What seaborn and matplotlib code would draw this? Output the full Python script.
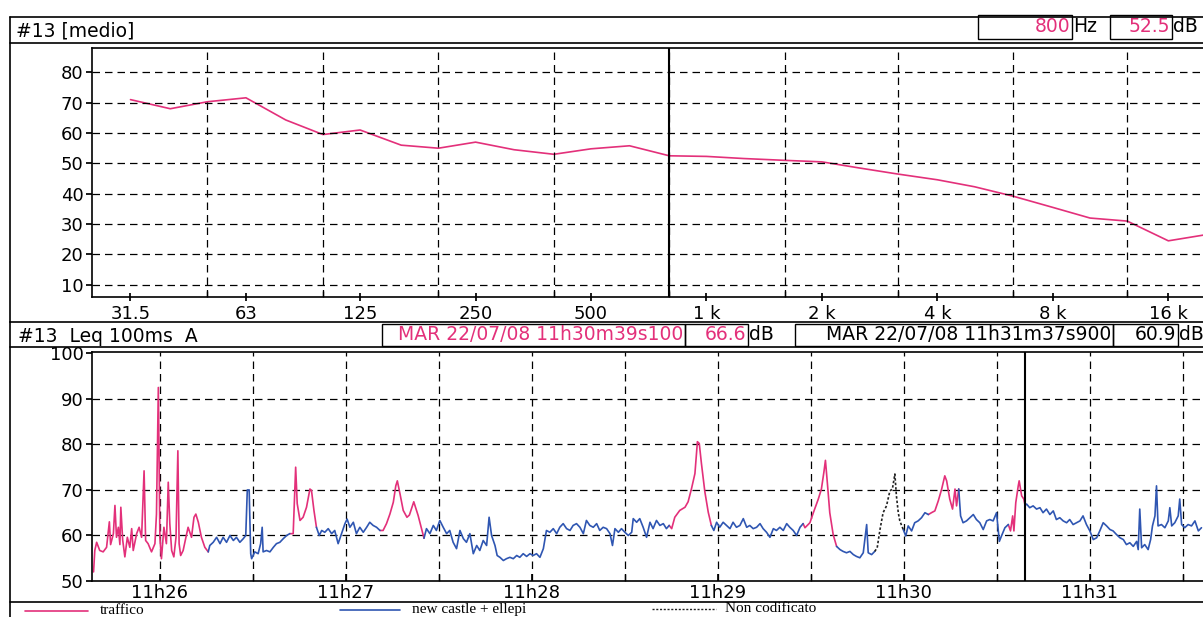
import numpy as np
import pandas as pd
import matplotlib
matplotlib.use("Agg")
import matplotlib.pyplot as plt
import matplotlib.ticker as mticker
from matplotlib.lines import Line2D
from matplotlib.patches import Rectangle
import seaborn as sns

# ---------------- spettro medio, bande 1/3 ottava ----------------
freq_hz = [31.5, 40, 50, 63, 80, 100, 125, 160, 200, 250, 315, 400, 500, 630,
           800, 1000, 1250, 1600, 2000, 2500, 3150, 4000, 5000, 6300, 8000,
           10000, 12500, 16000, 20000]
spec_db = [71.0, 68.0, 70.3, 71.6, 64.3, 59.5, 61.0, 56.0, 55.0, 57.0, 54.5, 53.0, 54.8, 55.8,
           52.5, 52.3, 51.6, 51.0, 50.5, 48.5, 46.5, 44.6, 42.3, 39.2, 35.5,
           32.0, 31.0, 24.5, 26.5]
octave_hz = [31.5, 63, 125, 250, 500, 1000, 2000, 4000, 8000, 16000]
octave_lbl = ["31.5", "63", "125", "250", "500", "1 k", "2 k", "4 k", "8 k", "16 k"]
grid_hz = [50, 100, 200, 400, 800, 1600, 3150, 6300, 12500]
cursor_hz = 800

# ---------------- Leq 100ms A, secondi dopo le 11h25 ----------------
leq_t = [38.6, 39.0, 39.6, 40.6, 41.7, 42.8, 43.7, 44.1, 45.0, 45.5, 46.0, 46.6, 47.1, 47.4, 48.0,
         48.7, 49.5, 50.3, 50.9, 51.4, 52.5, 53.3, 54.1, 54.9, 55.4, 56.2, 57.3, 58.4, 58.9, 59.5,
         60.0, 60.5, 61.3, 62.1, 62.7, 63.2, 63.8, 64.5, 65.2, 65.8, 66.2, 66.7, 67.5, 68.4, 69.1,
         70.2, 71.0, 71.6, 72.4, 73.4, 74.5, 75.6,
         76.1, 77.2, 78.3, 79.4, 80.4, 81.5, 82.6, 83.7, 84.7, 85.8, 86.9, 87.7, 88.2, 88.8, 89.3,
         89.6, 90.6, 91.7, 92.5, 93.0, 93.3, 94.4, 95.5, 96.6, 97.6, 98.7, 99.8, 100.9, 101.9,
         103.0, 103.8, 104.3, 105.2, 106.2, 107.3, 108.4, 108.9, 109.7, 110.5,
         111.4, 112.2, 113.2, 114.3, 115.4, 116.4, 117.5, 118.6, 119.7, 120.4, 121.3, 122.4, 123.4,
         124.5, 125.6, 126.7, 127.7, 128.8, 129.9, 131.0,
         132.0, 133.1, 134.2, 135.3, 136.1, 136.6, 137.5, 138.5, 139.7, 140.5, 141.9, 143.3, 144.4, 145.2,
         146.0, 147.1, 148.2, 149.2, 150.3, 151.4, 152.5, 153.5, 154.6, 155.7,
         156.8, 157.9, 158.9, 160.0, 161.1, 162.2, 163.2, 164.3, 165.4, 166.2,
         167.0, 168.1, 168.8, 169.7, 170.8, 171.8, 172.9, 174.0, 175.1, 176.1,
         177.2, 178.3, 179.4, 180.4, 181.5, 182.6, 183.7, 184.7, 185.8, 186.9,
         188.0, 189.0, 190.1, 191.2, 192.3, 193.3, 194.4, 195.5, 196.6, 197.6,
         198.7, 199.8, 200.9, 201.9, 203.0, 204.1, 205.2, 206.0, 206.8, 207.9,
         208.9, 210.0, 211.1, 212.2, 212.7, 213.8, 214.8, 215.9, 217.0, 218.1,
         219.1, 220.2, 221.3, 222.4, 223.4, 224.3,
         225.1, 226.1, 227.7, 229.4, 230.4, 231.5, 232.6, 233.4, 234.0, 234.7, 235.8, 236.9, 237.9,
         238.7, 239.6, 240.6, 241.7, 242.8, 243.9, 244.9, 246.0, 247.1, 248.2, 249.3, 250.3, 251.4,
         252.5, 253.6, 254.6, 255.7, 256.8, 257.9, 258.9, 260.0, 261.1, 262.2, 263.2, 264.3, 265.4,
         266.5, 267.5,
         268.1, 269.7, 270.8, 272.4, 273.4, 274.2, 274.7, 275.3, 276.1, 277.2, 278.3,
         279.4, 280.4, 281.5, 282.6, 283.7, 284.7, 285.8, 286.9, 288.0, 288.5, 289.6, 290.6,
         291.4, 292.3, 293.3, 294.4, 295.5, 296.3, 297.1, 297.6, 298.2, 298.7, 299.8,
         300.6, 301.4, 302.5, 303.5, 304.6, 305.7, 306.8, 307.9,
         308.9, 310.0, 311.1, 312.2, 313.2, 313.8, 314.8, 315.7, 316.5, 317.0, 317.7,
         318.3, 319.1, 320.2, 321.3, 322.4, 323.4, 324.5, 325.6, 326.7, 327.7, 328.8, 329.9, 330.8,
         331.5, 332.6, 333.7,
         334.4, 335.1, 335.5, 336.1, 336.9, 337.2, 338.0, 338.7, 339.1,
         339.6, 340.6, 341.7, 342.8, 343.9, 344.9, 346.0, 347.1, 348.2, 349.2,
         350.3, 351.4, 352.5, 353.5, 354.6, 355.7, 356.8, 357.8, 358.9, 360.0,
         361.1, 362.2, 363.2, 364.3, 365.4, 366.5, 367.5, 368.6, 369.7, 370.8,
         371.8, 372.9, 374.0, 375.1, 375.6, 376.1, 376.7, 377.7, 378.8, 379.6,
         380.2, 381.0, 381.5, 382.0, 383.1, 384.2, 385.3, 385.8, 386.4, 387.4,
         388.5, 389.0, 389.6, 390.6, 391.7, 392.8, 393.9, 395.0, 396.0]
leq_db = [52.0, 56.7, 58.5, 56.7, 56.4, 57.4, 63.0, 58.0, 60.4, 66.6, 59.6, 61.8, 58.0, 66.2, 59.0,
          55.3, 59.6, 57.4, 61.5, 56.7, 60.4, 61.8, 59.6, 74.2, 58.9, 58.2, 56.4, 58.2, 64.7, 92.5,
          59.6, 54.9, 61.8, 58.2, 71.7, 62.6, 56.7, 55.3, 59.6, 78.6, 58.2, 55.6, 56.7, 59.6, 61.8,
          59.6, 64.0, 64.7, 62.9, 59.6, 57.4, 56.4,
          57.8, 58.5, 59.6, 58.2, 59.6, 58.5, 60.0, 58.9, 59.6, 58.5, 59.3, 60.0, 70.0, 70.0, 56.0,
          54.9, 56.4, 56.0, 58.2, 61.8, 56.4, 56.7, 56.4, 57.4, 58.2, 58.5, 59.3, 60.0, 60.4,
          60.4, 75.0, 67.0, 63.3, 64.0, 66.2, 70.2, 69.9, 65.5, 61.8,
          60.0, 61.1, 60.7, 61.5, 60.4, 61.1, 58.2, 60.4, 62.6, 63.6, 61.8, 62.9, 60.4,
          61.8, 60.7, 61.8, 62.9, 62.2, 61.8, 61.1,
          61.1, 62.6, 64.7, 67.3, 70.9, 72.0, 69.0, 65.5, 64.0, 64.5, 67.4, 64.4, 61.5, 59.4,
          61.5, 60.4, 62.2, 61.1, 63.3, 61.8, 60.4, 61.1, 58.5, 57.1,
          61.1, 59.3, 58.5, 60.4, 56.0, 57.8, 56.7, 58.9, 57.8, 64.0,
          60.0, 57.8, 55.6, 55.2, 54.5, 54.9, 55.2, 54.9, 55.6, 55.2,
          56.0, 55.4, 56.0, 55.6, 56.0, 55.2, 57.1, 61.1, 60.7, 61.5,
          60.4, 61.8, 62.6, 61.5, 61.1, 62.2, 62.6, 61.8, 60.4, 63.3,
          62.2, 61.8, 62.6, 61.1, 61.8, 61.5, 60.4, 57.8, 61.5, 60.7,
          61.5, 60.7, 60.0, 60.7, 63.7, 62.9, 63.7, 61.8, 59.6, 62.9,
          61.5, 63.3, 62.2, 62.6, 61.5, 62.2,
          61.5, 64.0, 65.5, 66.2, 67.4, 70.3, 73.6, 80.6, 80.2, 75.8, 69.6, 65.1, 62.2,
          61.1, 62.9, 61.8, 62.9, 62.2, 61.5, 62.9, 61.8, 62.2, 63.7, 61.8, 62.2, 61.5,
          61.8, 62.6, 61.5, 60.7, 59.6, 61.5, 61.1, 61.8, 61.1, 62.6, 61.8, 61.1, 60.0,
          61.8, 62.6,
          61.7, 62.8, 65.0, 68.0, 70.2, 73.9, 76.5, 71.7, 65.0, 60.2, 57.6,
          56.9, 56.5, 56.2, 56.5, 55.8, 55.4, 55.1, 56.2, 62.4, 56.2, 55.8, 56.5,
          57.3, 61.3, 65.0, 66.5, 69.8, 70.2, 73.5, 68.7, 65.0, 63.2, 61.3,
          59.9, 62.1, 61.0, 62.8, 63.2, 63.9, 65.0, 64.6,
          65.0, 65.4, 67.6, 70.2, 73.1, 72.0, 68.0, 65.8, 70.2, 66.5, 70.2,
          64.3, 62.8, 63.2, 63.9, 64.6, 63.5, 62.8, 61.3, 63.2, 63.5, 63.2, 65.0, 58.7,
          59.9, 61.7, 62.4,
          61.0, 64.3, 61.0, 67.2, 70.9, 72.0, 68.7, 68.0, 66.6,
          66.9, 66.1, 66.5, 65.8, 66.1, 65.0, 65.8, 64.6, 65.4, 63.5,
          63.9, 63.2, 62.8, 63.5, 62.4, 62.8, 63.2, 64.3, 62.4, 61.0,
          59.1, 59.5, 61.0, 62.8, 62.1, 61.3, 61.0, 60.2, 59.5, 59.1,
          58.0, 58.4, 57.6, 58.7, 56.9, 65.8, 57.3, 58.0, 56.9, 59.1,
          62.1, 64.3, 70.9, 62.1, 62.4, 61.7, 63.2, 66.1, 62.1, 62.8,
          64.3, 68.0, 62.4, 61.7, 62.4, 62.1, 63.2, 61.0, 61.7]

# inizio di ogni tratto codificato
seg_start = [38.6, 76.1, 103.0, 111.4, 132.0, 146.0, 225.1, 238.7, 268.1, 279.4,
             291.4, 300.6, 308.9, 318.3, 334.4, 339.6]
seg_kind = ["traffico", "new castle + ellepi", "traffico", "new castle + ellepi",
            "traffico", "new castle + ellepi", "traffico", "new castle + ellepi",
            "traffico", "new castle + ellepi", "Non codificato", "new castle + ellepi",
            "traffico", "new castle + ellepi", "traffico", "new castle + ellepi"]

minute_s = [60, 120, 180, 240, 300, 360]
minute_lbl = ["11h26", "11h27", "11h28", "11h29", "11h30", "11h31"]
half_s = [90, 150, 210, 270, 330, 390]
cursor_s = 339.1

PINK = "#e3307a"
BLUE = "#2f56b2"
kind_colors = {"traffico": PINK, "new castle + ellepi": BLUE, "Non codificato": "#222222"}
kind_dashes = {"traffico": "", "new castle + ellepi": "", "Non codificato": (1.5, 1.2)}

# tabella per seaborn: ogni tratto riprende l'ultimo punto del precedente
t_arr = np.array(leq_t)
v_arr = np.array(leq_db)
seg_id = np.searchsorted(seg_start, t_arr, side="right") - 1
rows = []
for i, kind in enumerate(seg_kind):
    idx = np.where(seg_id == i)[0]
    if i > 0:
        idx = np.r_[idx[0] - 1, idx]
    for j in idx:
        rows.append((t_arr[j], v_arr[j], kind, i))
leq = pd.DataFrame(rows, columns=["t", "db", "kind", "seg"])

sns.set_theme(style="white")
plt.rcParams["font.family"] = ["DejaVu Sans"]
plt.rcParams["text.color"] = "black"
plt.rcParams["xtick.labelcolor"] = "black"
plt.rcParams["ytick.labelcolor"] = "black"

W, H = 1203, 617
fig = plt.figure(figsize=(W / 100, H / 100), dpi=100)


def fx(x):
    return x / W


def fy(y):
    return 1 - y / H


def fig_line(x0, y0, x1, y1, lw=1.2, **kw):
    fig.add_artist(Line2D([fx(x0), fx(x1)], [fy(y0), fy(y1)], transform=fig.transFigure,
                          color="black", lw=lw, **kw))


def fig_box(x0, y0, x1, y1):
    fig.add_artist(Rectangle((fx(x0), fy(y1)), fx(x1) - fx(x0), fy(y0) - fy(y1),
                             transform=fig.transFigure, fill=False, ec="black", lw=1.0))


grid_kw = dict(color="black", lw=0.9, ls=(0, (6, 4)))
TICK_FS = 13

# ======================= pannello spettro =======================
ax1 = fig.add_axes([fx(92), fy(297), fx(1203) - fx(92), fy(48) - fy(297)])
sns.lineplot(x=freq_hz, y=spec_db, color=PINK, lw=1.2, ax=ax1)
ax1.set_xscale("log", base=2)
ax1.set_xlim(25, 19700)
ax1.set_ylim(6, 88)
ax1.xaxis.set_major_locator(mticker.FixedLocator(octave_hz))
ax1.xaxis.set_major_formatter(mticker.FixedFormatter(octave_lbl))
ax1.xaxis.set_minor_locator(mticker.FixedLocator(grid_hz))
ax1.xaxis.set_minor_formatter(mticker.NullFormatter())
ax1.yaxis.set_major_locator(mticker.FixedLocator(range(10, 81, 10)))
ax1.grid(False)
for g in grid_hz:
    ax1.axvline(g, **grid_kw)
for g in range(10, 81, 10):
    ax1.axhline(g, **grid_kw)
ax1.axvline(cursor_hz, color="black", lw=1.5)
ax1.tick_params(axis="x", which="major", direction="inout", length=6, pad=3,
                labelsize=TICK_FS, color="black", bottom=True)
ax1.tick_params(axis="x", which="minor", direction="in", length=4, bottom=True, color="black")
ax1.tick_params(axis="y", direction="out", length=4, pad=2, labelsize=TICK_FS,
                color="black", left=True)
ax1.set_xlabel("")
ax1.set_ylabel("")

# ======================= pannello Leq =======================
ax2 = fig.add_axes([fx(92), fy(581), fx(1203) - fx(92), fy(352) - fy(581)])
sns.lineplot(data=leq, x="t", y="db", hue="kind", style="kind", units="seg",
             estimator=None, palette=kind_colors, dashes=kind_dashes,
             legend=False, lw=1.2, ax=ax2)
ax2.set_xlim(38.1, 396.5)
ax2.set_ylim(50, 100.3)
ax2.xaxis.set_major_locator(mticker.FixedLocator(minute_s))
ax2.xaxis.set_major_formatter(mticker.FixedFormatter(minute_lbl))
ax2.xaxis.set_minor_locator(mticker.FixedLocator(half_s))
ax2.yaxis.set_major_locator(mticker.FixedLocator(range(50, 101, 10)))
ax2.grid(False)
for g in minute_s + half_s:
    ax2.axvline(g, zorder=0, **grid_kw)
for g in range(60, 91, 10):
    ax2.axhline(g, zorder=0, **grid_kw)
ax2.axvline(cursor_s, color="black", lw=1.5)
ax2.tick_params(axis="x", which="both", direction="in", length=5, pad=2,
                labelsize=TICK_FS, color="black", bottom=True)
ax2.tick_params(axis="y", direction="out", length=4, pad=2, labelsize=TICK_FS,
                color="black", left=True)
ax2.set_xlabel("")
ax2.set_ylabel("")

for ax in (ax1, ax2):
    for side in ("left", "bottom", "top"):
        ax.spines[side].set_color("black")
        ax.spines[side].set_linewidth(1.2)
    ax.spines["right"].set_visible(False)

# ======================= cornici e intestazioni =======================
fig_line(10, 17, 1203, 17)
fig_line(10, 43, 1203, 43)
fig_line(10, 17, 10, 322)
fig_line(10, 322, 1203, 322)
fig_line(10, 347, 1203, 347)
fig_line(10, 322, 10, 617)
fig_line(10, 602, 1203, 602)

HEAD_FS = 13.5
fig.text(fx(16), fy(31), "#13 [medio]", fontsize=HEAD_FS, va="center", ha="left")
fig_box(978, 15, 1072, 39)
fig_box(1110, 15, 1172, 39)
fig.text(fx(1070), fy(27), "800", color=PINK, fontsize=HEAD_FS, va="center", ha="right")
fig.text(fx(1073), fy(27), "Hz", fontsize=HEAD_FS, va="center", ha="left")
fig.text(fx(1170), fy(27), "52.5", color=PINK, fontsize=HEAD_FS, va="center", ha="right")
fig.text(fx(1173), fy(27), "dB", fontsize=HEAD_FS, va="center", ha="left")

fig.text(fx(18), fy(337), "#13  Leq 100ms  A", fontsize=HEAD_FS, va="center", ha="left")
fig_box(382, 324, 685, 346)
fig_box(685, 324, 748, 346)
fig_box(795, 324, 1113, 346)
fig_box(1113, 324, 1178, 346)
fig.text(fx(683), fy(335), "MAR 22/07/08 11h30m39s100", color=PINK, fontsize=HEAD_FS,
         va="center", ha="right")
fig.text(fx(746), fy(335), "66.6", color=PINK, fontsize=HEAD_FS, va="center", ha="right")
fig.text(fx(749), fy(335), "dB", fontsize=HEAD_FS, va="center", ha="left")
fig.text(fx(1111), fy(335), "MAR 22/07/08 11h31m37s900", fontsize=HEAD_FS,
         va="center", ha="right")
fig.text(fx(1176), fy(335), "60.9", fontsize=HEAD_FS, va="center", ha="right")
fig.text(fx(1179), fy(335), "dB", fontsize=HEAD_FS, va="center", ha="left")

# ======================= legenda =======================
legend_items = [("traffico", 25, 88, 100, 611),
                ("new castle + ellepi", 340, 400, 412, 610),
                ("Non codificato", 652, 716, 725, 609)]
for kind, lx0, lx1, tx, ly in legend_items:
    d = kind_dashes[kind]
    fig.add_artist(Line2D([fx(lx0), fx(lx1)], [fy(ly), fy(ly)], transform=fig.transFigure,
                          color=kind_colors[kind], lw=1.2 if d == "" else 1.0,
                          ls="-" if d == "" else (0, (1.5, 1.2))))
    fig.text(fx(tx), fy(ly), kind, fontsize=11, family=["Liberation Serif", "DejaVu Serif"],
             va="center", ha="left")

fig.savefig("out.png", dpi=100, facecolor="white")
